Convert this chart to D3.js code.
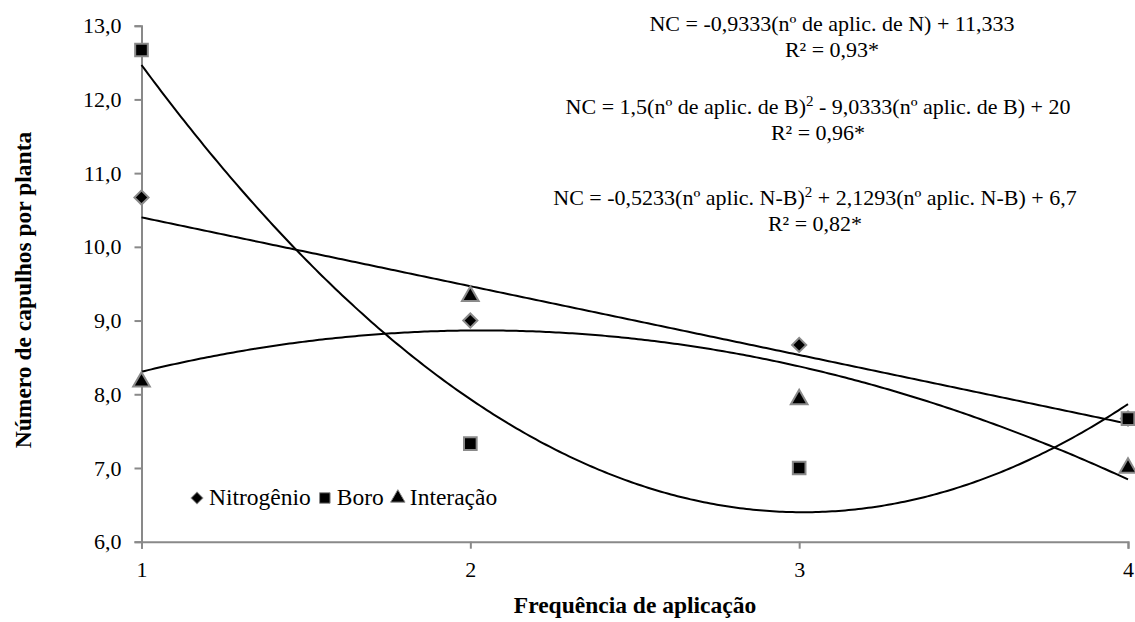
<html>
<head>
<meta charset="utf-8">
</head>
<body>
<script src="https://cdn.jsdelivr.net/npm/d3@7"></script>
<script>
var width = 1135, height = 622;
var FONT = "Liberation Serif";

// dados
var frequencias = [1, 2, 3, 4];
var nitrogenio = [10.67, 9.0, 8.67, 7.67];
var boro = [12.67, 7.33, 7.0, 7.67];
var interacao = [8.17, 9.33, 7.93, 7.0];
var yTicks = [6, 7, 8, 9, 10, 11, 12, 13];
// coeficientes das regressoes (a*x^2 + b*x + c)
var coefN = [0, -0.9333, 11.333];
var coefB = [1.5, -9.0333, 20];
var coefNB = [-0.5233, 2.1293, 6.7];
var legendLabels = ["Nitrogênio", "Boro", "Interação"];

// aplica a fonte direto em cada texto
function fonte(sel, size, bold) {
  sel.style("font-family", FONT).style("font-size", size + "px");
  if (bold) sel.style("font-weight", "bold");
  return sel;
}

d3.select("body").style("margin", "0").style("background", "#fff");

var svg = d3.select("body").append("svg")
    .attr("width", width)
    .attr("height", height)
    .style("display", "block");

var x = d3.scaleLinear().domain([1, 4]).range([141.5, 1128]);
var y = d3.scaleLinear().domain([6, 13]).range([541.7, 25.7]);

var fmt = function (d) { return d3.format(".1f")(d).replace(".", ","); };

// eixo y
var yAxis = svg.append("g")
    .attr("transform", "translate(" + x(1) + ",0)")
    .call(d3.axisLeft(y).tickValues(yTicks).tickFormat(fmt).tickSize(7).tickPadding(13));
// eixo x
var xAxis = svg.append("g")
    .attr("transform", "translate(0," + y(6) + ")")
    .call(d3.axisBottom(x).tickValues(frequencias).tickFormat(d3.format("d")).tickSize(7).tickPadding(13));

[yAxis, xAxis].forEach(function (g) {
  g.attr("font-family", null).attr("font-size", null);
  g.select(".domain").attr("stroke", "#898989").attr("stroke-width", 2);
  g.selectAll(".tick line").attr("stroke", "#898989").attr("stroke-width", 2);
  fonte(g.selectAll(".tick text"), 22).attr("fill", "#000");
});

// curvas de regressao
function poly(c) { return function (t) { return c[0] * t * t + c[1] * t + c[2]; }; }
var xs = d3.range(0, 301).map(function (i) { return 1 + i * 0.01; });
var line = d3.line().x(function (d) { return x(d); });
[coefN, coefB, coefNB].forEach(function (c) {
  var f = poly(c);
  svg.append("path")
      .datum(xs)
      .attr("fill", "none")
      .attr("stroke", "#000")
      .attr("stroke-width", 2)
      .attr("d", line.y(function (d) { return y(f(d)); }));
});

// marcadores (losango = quadrado girado 45 graus)
var shapes = [d3.symbolSquare, d3.symbolSquare, d3.symbolTriangle];
var sizes = [100, 160, 120];
var series = [nitrogenio, boro, interacao];
// desenha interacao, nitrogenio, depois boro por cima
[2, 0, 1].forEach(function (k) {
  svg.append("g").selectAll("path")
      .data(series[k])
      .enter()
      .append("path")
      .attr("transform", function (d, i) {
        return "translate(" + x(frequencias[i]) + "," + y(d) + ")" + (k === 0 ? " rotate(45)" : "");
      })
      .attr("d", d3.symbol().type(shapes[k]).size(sizes[k]))
      .attr("fill", "#000")
      .attr("stroke", "#8a8a8a")
      .attr("stroke-width", 2);
});

// legenda
var legend = svg.append("g").attr("transform", "translate(190,505)");
var lx = 7;
var legSizes = [70, 110, 90];
legendLabels.forEach(function (lab, k) {
  legend.append("path")
      .attr("transform", "translate(" + lx + ",-7)" + (k === 0 ? " rotate(45)" : ""))
      .attr("d", d3.symbol().type(shapes[k]).size(legSizes[k]))
      .attr("fill", "#000")
      .attr("stroke", "#8a8a8a")
      .attr("stroke-width", 1);
  var t = fonte(legend.append("text"), 23.5)
      .attr("x", lx + 12)
      .attr("y", 0)
      .text(lab);
  lx += 12 + t.node().getComputedTextLength() + 14;
});

// equacoes
var eqs = [
  {x: 832, y: 31, parts: [["NC = -0,9333(nº de aplic. de N) + 11,333"]]},
  {x: 832, y: 57, parts: [["R² = 0,93*"]]},
  {x: 818, y: 114, parts: [["NC = 1,5(nº de aplic. de B)"], ["2", true], [" - 9,0333(nº aplic. de B) + 20"]]},
  {x: 818, y: 140, parts: [["R² = 0,96*"]]},
  {x: 815, y: 205, parts: [["NC = -0,5233(nº aplic. N-B)"], ["2", true], [" + 2,1293(nº aplic. N-B) + 6,7"]]},
  {x: 815, y: 231, parts: [["R² = 0,82*"]]}
];
eqs.forEach(function (e) {
  var t = fonte(svg.append("text"), 22)
      .attr("x", e.x)
      .attr("y", e.y)
      .attr("text-anchor", "middle");
  e.parts.forEach(function (p, j) {
    var s = fonte(t.append("tspan"), p[1] ? 15 : 22).text(p[0]);
    if (p[1]) s.attr("dy", -8);
    else if (j > 0) s.attr("dy", 8);
  });
});

// titulos dos eixos
fonte(svg.append("text"), 23.5, true)
    .attr("transform", "translate(31,290) rotate(-90)")
    .attr("text-anchor", "middle")
    .text("Número de capulhos por planta");
fonte(svg.append("text"), 23.5, true)
    .attr("x", 635)
    .attr("y", 613)
    .attr("text-anchor", "middle")
    .text("Frequência de aplicação");
</script>
</body>
</html>
